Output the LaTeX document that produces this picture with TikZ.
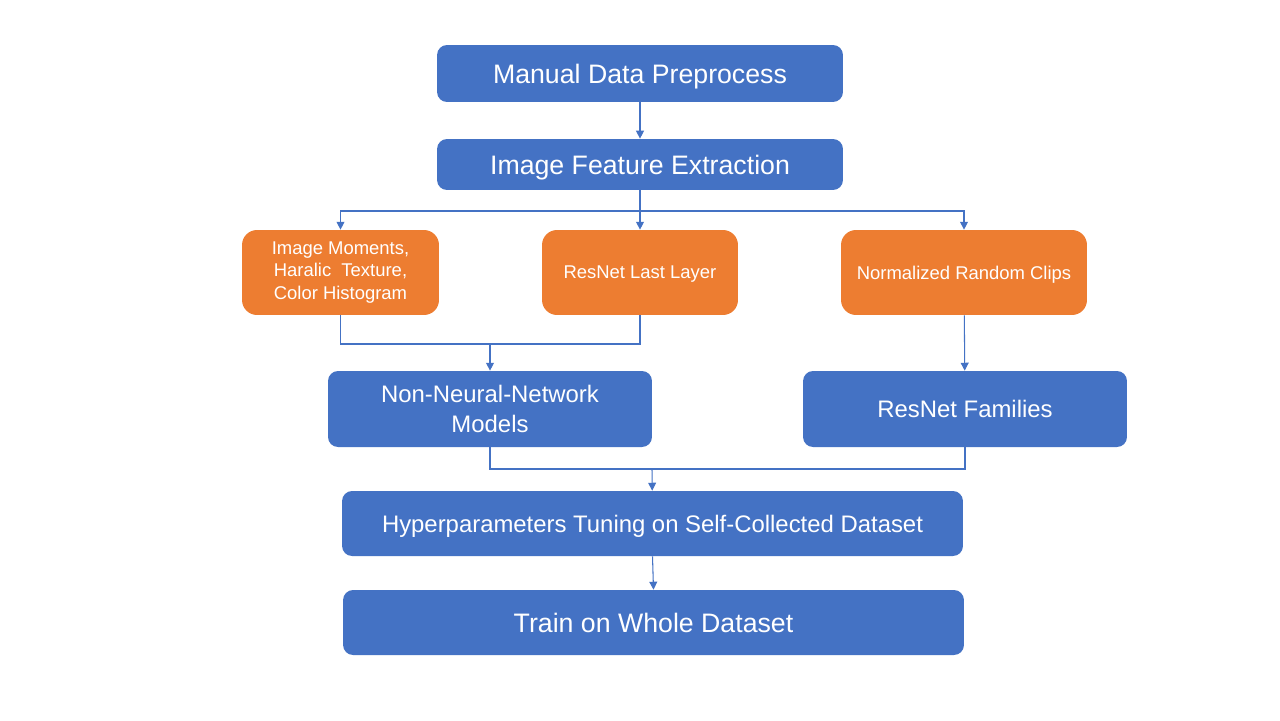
\documentclass[tikz,border=0pt]{standalone}
\usepackage{fontspec}
\setmainfont{Liberation Sans}
\usepackage{xcolor}
\usepackage{tikz}
\usetikzlibrary{calc,arrows.meta}
\definecolor{stepblue}{HTML}{4472C4}
\definecolor{steporange}{HTML}{ED7D31}
\tikzset{bluebox/.style={fill=stepblue,text=white,rounded corners=0.2cm,align=center,inner sep=2pt},
  orangebox/.style={fill=steporange,text=white,rounded corners=0.3cm,align=center,inner sep=2pt,font=\fontsize{10.5}{13}\selectfont},
  oneline/.style={text depth=0pt},
  flow/.style={stepblue,line width=0.6pt},
  flowarr/.style={flow,-{Triangle[length=4.5pt,width=4.5pt]}}}
\begin{document}
\begin{tikzpicture}[x=0.02cm,y=-0.02cm]
\useasboundingbox[fill=white] (0,0) rectangle (1280,720);
\node[bluebox,oneline,minimum width=8.12cm,minimum height=1.14cm,font=\fontsize{15.2}{18}\selectfont] (prep) at (640,73.5) {Manual Data Preprocess};
\node[bluebox,oneline,minimum width=8.12cm,minimum height=1.02cm,font=\fontsize{15.2}{18}\selectfont] (feat) at (640,164.5) {Image Feature Extraction};
\node[orangebox,minimum width=3.94cm,minimum height=1.7cm] (hand) at (340.5,272.5) {Image Moments,\\Haralic\ \ Texture,\\Color Histogram};
\node[orangebox,oneline,minimum width=3.92cm,minimum height=1.7cm] (last) at (640,272.5) {ResNet Last Layer};
\node[orangebox,oneline,minimum width=4.92cm,minimum height=1.7cm] (clips) at (964,272.5) {Normalized Random Clips};
\node[bluebox,minimum width=6.48cm,minimum height=1.52cm,font=\fontsize{13.6}{17}\selectfont] (nonnn) at (490,409) {Non-Neural-Network\\Models};
\node[bluebox,oneline,minimum width=6.48cm,minimum height=1.52cm,font=\fontsize{13.6}{17}\selectfont] (fam) at (965,409) {ResNet Families};
\node[bluebox,oneline,minimum width=12.42cm,minimum height=1.3cm,font=\fontsize{13.6}{17}\selectfont] (tune) at (652.5,523.5) {Hyperparameters Tuning on Self-Collected Dataset};
\node[bluebox,oneline,minimum width=12.42cm,minimum height=1.3cm,font=\fontsize{15.2}{18}\selectfont] (train) at (653.5,622.5) {Train on Whole Dataset};
% connectors
\coordinate (fork) at (640,211);
\coordinate (merge) at (490,344);
\coordinate (join) at (652,469);
\draw[flowarr] (prep) -- (feat);
\draw[flow] (feat) -- (fork);
\draw[flowarr] (fork) -| (hand);
\draw[flowarr] (fork) -- (last);
\draw[flowarr] (fork) -| (clips);
\draw[flow] (hand.south) |- (merge) -| (last.south);
\draw[flowarr] (merge) -- (nonnn);
\draw[flowarr] (clips) -- (fam);
\draw[flow] (nonnn.south) |- (join) -| (fam.south);
\draw[flowarr] (join) -- (tune);
\draw[flowarr] (tune.south) -- (train.north);
\end{tikzpicture}
\end{document}
